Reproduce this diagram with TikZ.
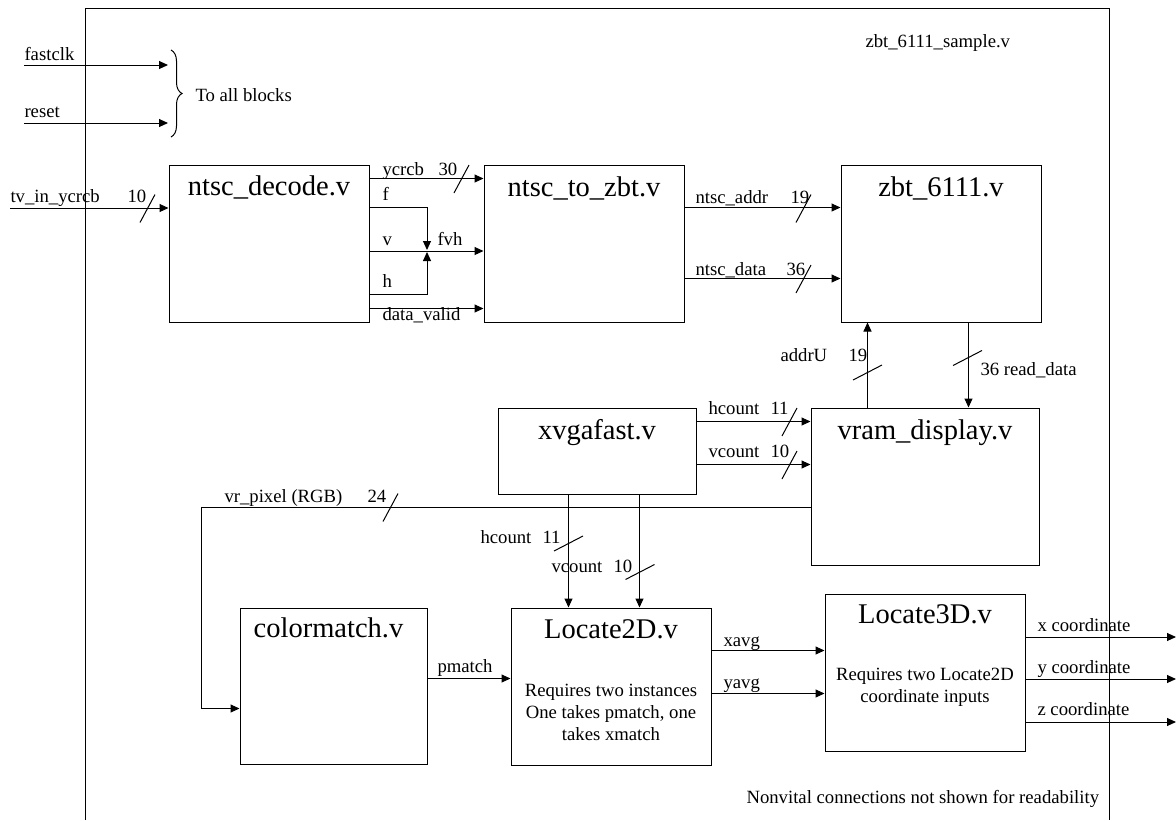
\documentclass[tikz,border=0pt]{standalone}
\usepackage{fontspec}
\setmainfont{Liberation Serif}
\usetikzlibrary{arrows.meta, positioning, decorations.pathreplacing}

\begin{document}
\begin{tikzpicture}[x=1pt, y=-1pt, line width=1pt,
  block/.style={rectangle, draw, minimum width=200pt, minimum height=157pt, inner sep=0pt},
  blocktitle/.style={anchor=base, inner sep=0pt, font=\fontsize{28.5}{34}\selectfont},
  lbl/.style={anchor=base west, inner sep=0pt, font=\fontsize{18.7}{22}\selectfont},
  blocknote/.style={anchor=north, inner sep=0pt, align=center, font=\fontsize{18.7}{22}\selectfont},
  arr/.style={-{Triangle[length=9pt, width=8pt]}}]
\useasboundingbox (0,0) rectangle (1176,820);

% outer frame
\draw (85,820) -- (85,8) -- (1109,8) -- (1109,820);
\node (fname) [lbl] at (865,47) {zbt\_6111\_sample.v};

% blocks
\node (decode) [block] at (269,243.5) {};
\node (tozbt) [block, right=114pt of decode] {};
\node (zbt) [block, right=156pt of tozbt] {};
\node (xvga) [block, minimum width=198pt, minimum height=86pt] at (597,451) {};
\node (vram) [block, minimum width=228pt] at (925,486.5) {};
\node (cmatch) [block, minimum width=187pt, minimum height=156pt] at (333.5,686) {};
\node (loc2d) [block] at (611,686.5) {};
\node (loc3d) [block] at (925,672.5) {};

\node (decodet) [blocktitle] at ([yshift=-31pt]decode.north) {ntsc\_decode.v};
\node (tozbtt) [blocktitle] at ([yshift=-32pt]tozbt.north) {ntsc\_to\_zbt.v};
\node (zbtt) [blocktitle] at ([yshift=-32pt]zbt.north) {zbt\_6111.v};
\node (xvgat) [blocktitle] at ([yshift=-32pt]xvga.north) {xvgafast.v};
\node (vramt) [blocktitle] at ([yshift=-32pt]vram.north) {vram\_display.v};
\node (cmatcht) [blocktitle] at ([xshift=-5pt, yshift=-30pt]cmatch.north) {colormatch.v};
\node (loc2dt) [blocktitle] at ([yshift=-31pt]loc2d.north) {Locate2D.v};
\node (loc3dt) [blocktitle] at ([yshift=-30pt]loc3d.north) {Locate3D.v};

\node (loc2dn) [blocknote] at (611,684) {Requires two instances\\One takes pmatch, one\\takes xmatch};
\node (loc3dn) [blocknote] at (925,668) {Requires two Locate2D\\coordinate inputs};

% clock and reset
\coordinate (clkin) at (24,65);
\coordinate (rstin) at (24,123);
\coordinate (bracetop) at (171,50);
\coordinate (bracebot) at (171,137);
\draw [arr] (clkin) -- (clkin -| 168,0);
\draw [arr] (rstin) -- (rstin -| 168,0);
\draw [decorate, decoration={brace, amplitude=11pt}] (bracetop) -- (bracebot);
\node (lclk) [lbl] at (24,60) {fastclk};
\node (lrst) [lbl] at (24,117) {reset};
\node (lall) [lbl] at (195,101) {To all blocks};

% video input
\coordinate (tvin) at (10,208);
\draw [arr] (tvin) -- (decode.west |- tvin);
\node (ltv) [lbl] at (10,202) {tv\_in\_ycrcb};
\node (ltvw) [lbl] at (127,202) {10};

% ntsc_decode -> ntsc_to_zbt
\coordinate (fvh) at (427,251);
\draw [arr] ([yshift=-14pt]decode.north east) -- ([yshift=-14pt]tozbt.north west);
\draw [arr] ([yshift=-43pt]decode.north east) -| ([yshift=1pt]fvh);
\draw [arr] ([yshift=28pt]decode.south east) -| ([yshift=-1pt]fvh);
\draw [arr] (decode.east |- fvh) -- (tozbt.west |- fvh);
\draw [arr] ([yshift=14pt]decode.south east) -- ([yshift=14pt]tozbt.south west);
\node (lycrcb) [lbl] at (382,175) {ycrcb};
\node (lycrcbw) [lbl] at (438,175) {30};
\node (lf) [lbl] at (382,200) {f};
\node (lv) [lbl] at (382,245) {v};
\node (lfvh) [lbl] at (437,245) {fvh};
\node (lh) [lbl] at (382,287) {h};
\node (lvalid) [lbl] at (382,320) {data\_valid};

% ntsc_to_zbt -> zbt_6111
\draw [arr] ([yshift=-43pt]tozbt.north east) -- ([yshift=-43pt]zbt.north west);
\draw [arr] ([yshift=-114pt]tozbt.north east) -- ([yshift=-114pt]zbt.north west);
\node (laddr) [lbl] at (695,203) {ntsc\_addr};
\node (laddrw) [lbl] at (790,203) {19};
\node (ldata) [lbl] at (695,275) {ntsc\_data};
\node (ldataw) [lbl] at (786,275) {36};

% zbt_6111 <-> vram_display
\draw [arr] ([xshift=57pt]vram.north west) -- ([xshift=57pt]vram.north west |- zbt.south);
\draw [arr] ([xshift=128pt]zbt.south west) -- ([xshift=128pt]zbt.south west |- vram.north);
\node (laddru) [lbl] at (780,361) {addrU};
\node (laddruw) [lbl] at (848,361) {19};
\node (lread) [lbl] at (980,375) {36 read\_data};

% xvgafast -> vram_display
\draw [arr] ([yshift=-14pt]xvga.north east) coordinate (hc) -- (hc -| vram.west);
\draw [arr] ([yshift=-57pt]xvga.north east) coordinate (vc) -- (vc -| vram.west);
\node (lhc) [lbl] at (708,414) {hcount};
\node (lhcw) [lbl] at (770,414) {11};
\node (lvc) [lbl] at (708,457) {vcount};
\node (lvcw) [lbl] at (770,457) {10};

% vram_display -> colormatch
\draw [{Triangle[length=9pt, width=8pt]}-] ([yshift=56pt]cmatch.south west) -- ++(-38,0) |- ([yshift=-100pt]vram.north west);
\node (lpix) [lbl] at (224,502) {vr\_pixel (RGB)};
\node (lpixw) [lbl] at (367,502) {24};

% xvgafast -> Locate2D
\draw [arr] ([xshift=71pt]xvga.south west) -- ([xshift=71pt]xvga.south west |- loc2d.north);
\draw [arr] ([xshift=142pt]xvga.south west) -- ([xshift=142pt]xvga.south west |- loc2d.north);
\node (lhc2) [lbl] at (480,543) {hcount};
\node (lhc2w) [lbl] at (542,543) {11};
\node (lvc2) [lbl] at (551,572) {vcount};
\node (lvc2w) [lbl] at (613,572) {10};

% colormatch -> Locate2D -> Locate3D
\draw [arr] ([yshift=-71pt]cmatch.north east) coordinate (pm) -- (pm -| loc2d.west);
\draw [arr] ([yshift=-43pt]loc2d.north east) coordinate (xa) -- (xa -| loc3d.west);
\draw [arr] ([yshift=-86pt]loc2d.north east) coordinate (ya) -- (ya -| loc3d.west);
\node (lpm) [lbl] at (437,672) {pmatch};
\node (lxa) [lbl] at (723,646) {xavg};
\node (lya) [lbl] at (723,688) {yavg};

% outputs
\coordinate (xout) at (1176,637);
\coordinate (yout) at (1176,679);
\coordinate (zout) at (1176,722);
\draw [arr] (loc3d.east |- xout) -- (xout);
\draw [arr] (loc3d.east |- yout) -- (yout);
\draw [arr] (loc3d.east |- zout) -- (zout);
\node (lxo) [lbl] at (1037,631) {x coordinate};
\node (lyo) [lbl] at (1037,673) {y coordinate};
\node (lzo) [lbl] at (1037,715) {z coordinate};

\node (lnote) [lbl] at (746,803) {Nonvital connections not shown for readability};

% bus width marks
\foreach \bx/\by in {147.5/208.5, 461.5/179, 803.5/208.5, 803.5/279, 789.5/422, 789.5/465, 390.5/507.5}
  \draw (\bx,\by) ++(-7.5,14) -- ++(15,-28);
\foreach \bx/\by in {867.5/372.5, 967.5/358, 568.5/543.5, 640/572}
  \draw (\bx,\by) ++(-14.5,7.5) -- ++(29,-15);
\end{tikzpicture}
\end{document}
